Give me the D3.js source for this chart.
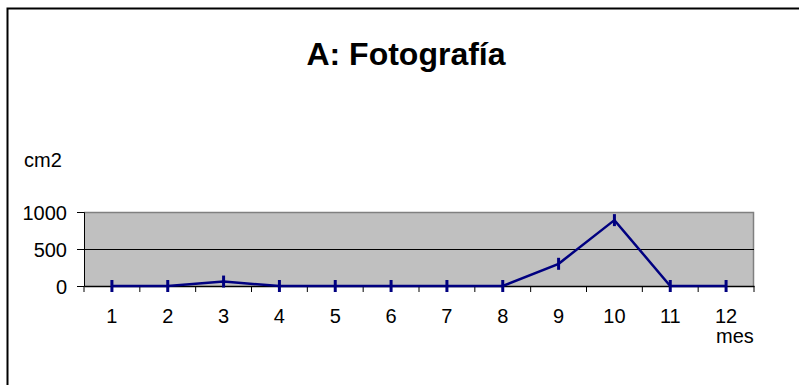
<!DOCTYPE html>
<html><head><meta charset="utf-8">
<script src="https://cdn.jsdelivr.net/npm/d3@7"></script>
<style>body{margin:0;background:#fff}svg{display:block}text{font-family:"Liberation Sans",Arial,sans-serif}</style>
</head><body>
<script>
const months = ["1","2","3","4","5","6","7","8","9","10","11","12"];
const values = [0,0,60,0,0,0,0,0,300,890,0,0];
const yTicks = [0,500,1000];
const title = "A: Fotografía";
const yLabel = "cm2";
const xLabel = "mes";

const W=799,H=385;
const svg=d3.select("body").append("svg").attr("width",W).attr("height",H);
svg.append("path").attr("d",`M7.5,${H+5}V8.5H${W+5}`).attr("fill","none").attr("stroke","#000").attr("stroke-width",2);

const L=84,R=754,T=212,B=286;
const x=d3.scaleBand().domain(months).range([L,R]);
const y=d3.scaleLinear().domain([0,1000]).range([B,T]);

svg.append("rect").attr("x",L).attr("y",T).attr("width",R-L).attr("height",B-T).attr("fill","#c0c0c0");
svg.append("path").attr("d",`M${L},${T+0.5}H${R-0.5}V${B}`).attr("fill","none").attr("stroke","#808080").attr("stroke-width",1.5);
svg.append("g").selectAll("line").data(yTicks.filter(d=>d>0&&d<1000)).join("line")
 .attr("x1",L).attr("x2",R).attr("y1",d=>Math.round(y(d))+0.5).attr("y2",d=>Math.round(y(d))+0.5).attr("stroke","#000").attr("stroke-width",1);

const ya=svg.append("g").attr("transform",`translate(${L},0)`).call(d3.axisLeft(y).tickValues(yTicks).tickFormat(d3.format("d")).tickSize(7).tickPadding(10));
ya.select(".domain").attr("stroke","#000");
ya.selectAll("text").attr("font-size",20).attr("fill","#000").attr("dy","0.36em").attr("font-family","Liberation Sans, Arial, sans-serif");

const xa=svg.append("g").attr("transform",`translate(0,${B})`).call(d3.axisBottom(x).tickSize(0).tickPadding(0));
xa.select(".domain").attr("stroke","#000").attr("stroke-width",1.5);
xa.selectAll("text").attr("font-size",20).attr("fill","#000").attr("dy",null).attr("y",37).attr("font-family","Liberation Sans, Arial, sans-serif");
const bounds=months.map(m=>x(m)).concat([R]);
svg.append("g").selectAll("line").data(bounds).join("line")
 .attr("x1",d=>d).attr("x2",d=>d).attr("y1",B).attr("y2",B+6).attr("stroke","#000");

const cx=d=>x(d)+x.bandwidth()/2;
const line=d3.line().x((d,i)=>cx(months[i])).y(d=>y(d));
svg.append("path").datum(values).attr("d",line).attr("fill","none").attr("stroke","#000080").attr("stroke-width",2.5);
svg.append("g").selectAll("line").data(values).join("line")
 .attr("x1",(d,i)=>cx(months[i])).attr("x2",(d,i)=>cx(months[i]))
 .attr("y1",d=>y(d)-6).attr("y2",d=>y(d)+6).attr("stroke","#000080").attr("stroke-width",3);

svg.append("text").attr("x",406).attr("y",65).attr("text-anchor","middle").attr("font-size",32).attr("font-weight","bold").text(title);
svg.append("text").attr("x",24).attr("y",167).attr("font-size",20).text(yLabel);
svg.append("text").attr("x",716).attr("y",343).attr("font-size",20).text(xLabel);
</script>
</body></html>
